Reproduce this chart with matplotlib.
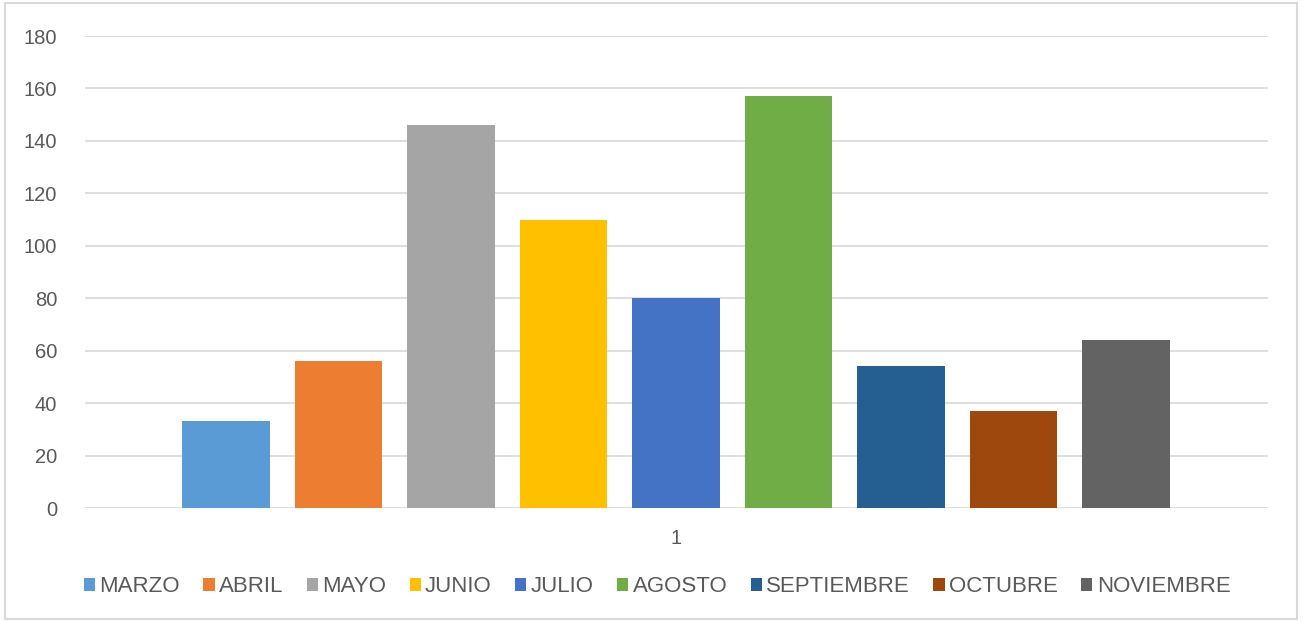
import numpy as np
import matplotlib.pyplot as plt
from matplotlib.patches import Rectangle

plt.rcParams['font.family'] = ['Liberation Sans', 'DejaVu Sans']

months = ['MARZO', 'ABRIL', 'MAYO', 'JUNIO', 'JULIO', 'AGOSTO',
          'SEPTIEMBRE', 'OCTUBRE', 'NOVIEMBRE']
values = [33, 56, 146, 110, 80, 157, 54, 37, 64]
colors = ['#5b9bd5', '#ed7d31', '#a5a5a5', '#ffc000', '#4472c4',
          '#70ad47', '#255e91', '#9e480e', '#636363']
category = '1'
yticks = np.arange(0, 181, 20)

fig = plt.figure(figsize=(13.04, 6.22), dpi=100)
ax = fig.add_axes([85 / 1304, 114 / 622, 1183 / 1304, 472 / 622])

x = np.arange(len(months))
for i in range(len(months)):
    ax.bar(x[i], values[i], width=0.78, color=colors[i], label=months[i], zorder=3)

ax.set_xlim(-1.253, 9.262)
ax.set_ylim(0, 180)
ax.set_yticks(yticks)
ax.set_xticks([x.mean()])
ax.set_xticklabels([category])
ax.grid(axis='y', color='#d9d9d9', linewidth=1.2, zorder=0)
for s in ax.spines.values():
    s.set_visible(False)
ax.tick_params(length=0, labelsize=14.5, colors='#595959')
ax.tick_params(axis='y', pad=20)
ax.tick_params(axis='x', pad=15)

fig.legend(loc='center', bbox_to_anchor=(0.504, 1 - 587 / 622), ncol=9,
           frameon=False, fontsize=16, handlelength=0.5, handleheight=0.5,
           handletextpad=0.2, columnspacing=1.05, labelcolor='#595959')

fig.patches.append(Rectangle((5 / 1304, 3 / 622), 1292 / 1304, 616 / 622,
                             transform=fig.transFigure, fill=False,
                             edgecolor='#d9d9d9', linewidth=1.5))

plt.savefig('out.png', dpi=100)
